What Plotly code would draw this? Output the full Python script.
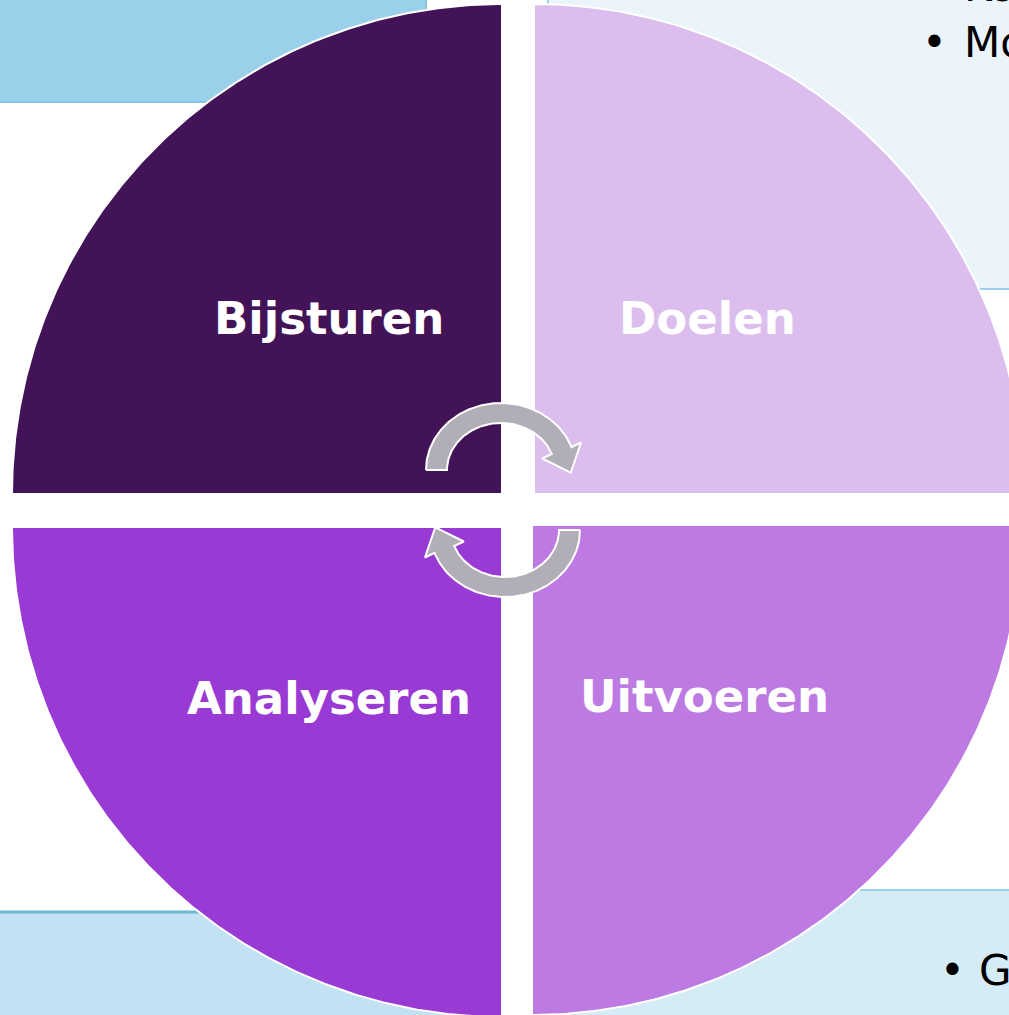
import numpy as np
import plotly.graph_objects as go

# ---- content ----
phases = ["Bijsturen", "Doelen", "Analyseren", "Uitvoeren"]
phase_colors = ["#421457", "#DCBEEE", "#9A3AD4", "#BC7AE2"]
# label centres (pixel coordinates of the diagram canvas)
label_x = [329, 707, 329, 704]
label_y = [318, 318, 698, 696]

side_texts_top = ["Ko", "Mo"]
side_text_bottom = ["G"]

# ---- geometry parameters ----
W, H = 1009, 1015
R = 490
centers = [(502, 494), (534, 494), (502, 527), (532, 525)]
angle_ranges = [(90, 180), (0, 90), (180, 270), (270, 360)]

fig = go.Figure()

# background panels
fig.add_shape(type="rect", x0=-10, x1=426, y0=-10, y1=102, fillcolor="#9BD0EA",
              line=dict(color="#86C5E3", width=2), layer="below")
fig.add_shape(type="rect", x0=548, x1=1030, y0=-10, y1=289, fillcolor="#EAF4FA",
              line=dict(color="#9BD0EA", width=2), layer="below")
fig.add_shape(type="rect", x0=-10, x1=485, y0=912, y1=1040, fillcolor="#C2E1F2",
              line=dict(color="#6EBAD4", width=3), layer="below")
fig.add_shape(type="rect", x0=560, x1=1030, y0=890, y1=1040, fillcolor="#D5EBF6",
              line=dict(color="#9BD0EA", width=2), layer="below")

# quadrants
for name, col, (cx, cy), (a0, a1) in zip(phases, phase_colors, centers, angle_ranges):
    t = np.radians(np.linspace(a0, a1, 200))
    xs = np.concatenate([[cx], cx + R * np.cos(t), [cx]])
    ys = np.concatenate([[cy], cy - R * np.sin(t), [cy]])
    fig.add_trace(go.Scatter(x=xs, y=ys, mode="lines", fill="toself", fillcolor=col,
                             line=dict(color="white", width=2), hoverinfo="skip",
                             showlegend=False, name=name))

# cycle arrows
acx, acy = 501, 470
rxo, ryo, rxi, ryi = 75, 67, 54, 47
t_end = np.radians(20)
head_half, head_len = 21, 24

t = np.linspace(np.pi, t_end, 120)
outer = np.column_stack([acx + rxo * np.cos(t), acy - ryo * np.sin(t)])
inner = np.column_stack([acx + rxi * np.cos(t), acy - ryi * np.sin(t)])
O, I = outer[-1], inner[-1]
M = (O + I) / 2
rxm, rym = (rxo + rxi) / 2, (ryo + ryi) / 2
tan = np.array([rxm * np.sin(t_end), rym * np.cos(t_end)])
tan = tan / np.linalg.norm(tan)
perp = np.array([tan[1], -tan[0]])
wing_out = M + perp * head_half
wing_in = M - perp * head_half
tip = M + tan * head_len
arrow = np.vstack([outer, wing_out, tip, wing_in, inner[::-1], outer[:1]])

rot_c = np.array([503, 500])
arrow2 = 2 * rot_c - arrow

for arr in (arrow, arrow2):
    fig.add_trace(go.Scatter(x=arr[:, 0], y=arr[:, 1], mode="lines", fill="toself",
                             fillcolor="#B2AEB7", line=dict(color="white", width=2),
                             hoverinfo="skip", showlegend=False))

# labels
for name, x, y in zip(phases, label_x, label_y):
    fig.add_annotation(x=x, y=y, text=f"<b>{name}</b>", showarrow=False,
                       font=dict(family="DejaVu Sans", size=45, color="white"),
                       xanchor="center", yanchor="middle")

side_font = dict(family="DejaVu Sans", size=42, color="black")
fig.add_annotation(x=962, y=13, text=side_texts_top[0], showarrow=False, font=side_font,
                   xanchor="left", yanchor="bottom")
fig.add_annotation(x=934, y=42, text="•", showarrow=False, font=side_font,
                   xanchor="center", yanchor="middle")
fig.add_annotation(x=962, y=42, text=side_texts_top[1], showarrow=False, font=side_font,
                   xanchor="left", yanchor="middle")
fig.add_annotation(x=952, y=970, text="•", showarrow=False, font=side_font,
                   xanchor="center", yanchor="middle")
fig.add_annotation(x=977, y=970, text=side_text_bottom[0], showarrow=False, font=side_font,
                   xanchor="left", yanchor="middle")

fig.update_layout(
    width=W, height=H, margin=dict(l=0, r=0, t=0, b=0),
    paper_bgcolor="white", plot_bgcolor="white",
    xaxis=dict(range=[0, W], visible=False, fixedrange=True),
    yaxis=dict(range=[H, 0], visible=False, fixedrange=True),
    showlegend=False,
)

fig.write_html("out.html", config={"displayModeBar": False},
               post_script="document.body.style.margin='0';document.body.style.overflow='hidden';")
